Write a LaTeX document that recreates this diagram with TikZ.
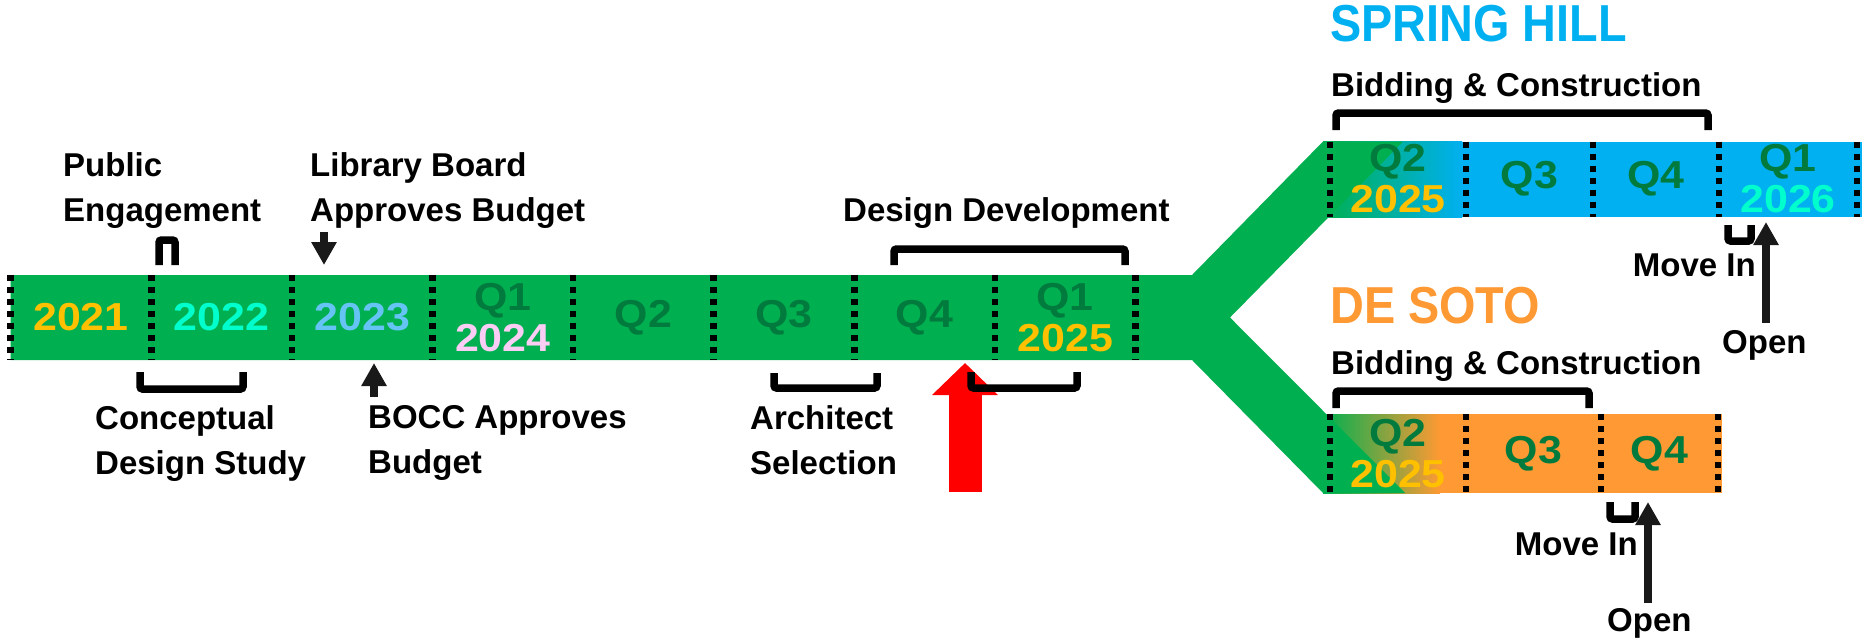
\documentclass[tikz,border=0pt]{standalone}
\usepackage{fontspec}
\setmainfont{Liberation Sans}
\newfontfamily\cellfont{Liberation Sans}[FakeStretch=1.1]
\newfontfamily\sitefont{Liberation Sans}[FakeStretch=0.9]
\usetikzlibrary{arrows.meta}

\definecolor{barGreen}{HTML}{00B050}
\definecolor{qGreen}{HTML}{007A3D}
\definecolor{barBlue}{HTML}{00B0F0}
\definecolor{barOrange}{HTML}{FF9933}
\definecolor{yrGold}{HTML}{FFC000}
\definecolor{yrAqua}{HTML}{00FFCC}
\definecolor{yrSky}{HTML}{66C4F5}
\definecolor{yrPink}{HTML}{FACDF5}
\definecolor{nowRed}{HTML}{FF0000}

\begin{document}
\begin{tikzpicture}[x=1pt,y=-1pt,
  lbl/.style={anchor=north west,inner sep=0,align=left,
    font=\bfseries\fontsize{33}{45}\selectfont},
  cell/.style={inner sep=0,align=center,text=qGreen,
    font=\cellfont\bfseries\fontsize{39}{41}\selectfont},
  sitename/.style={anchor=north west,inner sep=0,
    font=\sitefont\bfseries\fontsize{52}{56}\selectfont},
  qsep/.style={line width=6.5pt,dash pattern=on 6pt off 6pt},
  brk/.style={line width=7.5pt,rounded corners=2.5pt},
  arr/.style={black!90,line width=8.5pt,-{Triangle[width=24pt,length=23pt]}}]
\useasboundingbox (0,0) rectangle (1862,637);

% branch bars
\fill[barBlue] (1323,141.5) rectangle (1862,217);
\shade[left color=barGreen,right color=barBlue] (1323,141.5) rectangle (1462,217);
\fill[barOrange] (1323,414) rectangle (1722,493);
\shade[left color=barGreen,right color=barOrange] (1323,414) rectangle (1440,493);
% main track and fork
\fill[barGreen] (10.7,275) -- (1192,275) -- (1323,141.5) -- (1403,141.5)
  -- (1230,317.5) -- (1405,493) -- (1323,493) -- (1192,360) -- (10.7,360) -- cycle;

% quarter separators
\foreach \x in {10.7,151.3,291.9,432.5,573.1,713.7,854.3,994.9,1135.5}
  \draw[qsep] (\x,275) -- (\x,360);
\foreach \x in {1330,1466,1593,1719,1857}
  \draw[qsep] (\x,141.5) -- (\x,217);
\foreach \x in {1330,1466,1601,1718}
  \draw[qsep] (\x,414) -- (\x,493);

% main track cells
\node[cell,text=yrGold] (c21) at (81,317.5) {2021};
\node[cell,text=yrAqua] (c22) at (221.6,317.5) {2022};
\node[cell,text=yrSky] (c23) at (362.2,317.5) {2023};
\node[cell] (c24) at (502.8,317.5) {Q1\\\color{yrPink}2024};
\node[cell] (cq2) at (643.4,317.5) {Q2};
\node[cell] (cq3) at (784,317.5) {Q3};
\node[cell] (cq4) at (924.6,317.5) {Q4};
\node[cell] (c25) at (1065.2,317.5) {Q1\\\color{yrGold}2025};

% Spring Hill cells
\node[cell] (shq2) at (1398,179) {Q2\\\color{yrGold}2025};
\node[cell] (shq3) at (1529.5,179) {Q3};
\node[cell] (shq4) at (1656,179) {Q4};
\node[cell] (shq1) at (1788,179) {Q1\\\color{yrAqua}2026};

% De Soto cells
\node[cell] (dsq2) at (1398,453.5) {Q2\\\color{yrGold}2025};
\node[cell] (dsq3) at (1533.5,453.5) {Q3};
\node[cell] (dsq4) at (1659.5,453.5) {Q4};

% where we are now
\coordinate (nowtail) at (965,492);
\coordinate (nowtip) at (965,363);
\draw[nowRed,line width=33pt,-{Triangle[width=64pt,length=32pt]}] (nowtail) -- (nowtip);

% brackets
\draw[brk] (159,265) |- (167,240) -| (175,265);
\draw[brk] (140,372) |- (190,389) -| (243,372);
\draw[brk] (774,373) |- (825,388) -| (877,373);
\draw[brk] (971,372) |- (1024,388) -| (1077,372);
\draw[brk] (894,265) |- (1010,249) -| (1125,265);
\draw[brk] (1336,130) |- (1520,113) -| (1708,130);
\draw[brk] (1336,408) |- (1460,391) -| (1589,408);
\draw[brk] (1728,225) |- (1740,241) -| (1751,225);
\draw[brk] (1610,502) |- (1622,519) -| (1635,502);

% milestone arrows
\coordinate (libtail) at (324,232);
\coordinate (libtip) at (324,265);
\coordinate (bocctail) at (374,397);
\coordinate (bocctip) at (374,363);
\coordinate (shtail) at (1766,323);
\coordinate (shtip) at (1766,222);
\coordinate (dstail) at (1648,603);
\coordinate (dstip) at (1648,502);
\draw[arr] (libtail) -- (libtip);
\draw[arr] (bocctail) -- (bocctip);
\draw[arr] (shtail) -- (shtip);
\draw[arr] (dstail) -- (dstip);

% labels
\node[lbl] (pub) at (63,152) {Public\\Engagement};
\node[lbl] (lib) at (310,152) {Library Board\\Approves Budget};
\node[lbl] (ccpt) at (95,405) {Conceptual\\Design Study};
\node[lbl] (bocc) at (368,405) {BOCC Approves\\Budget};
\node[lbl] (arch) at (750,405) {Architect\\Selection};
\node[lbl] (dd) at (843,197) {Design Development};

\node[sitename,text=barBlue] (sh) at (1330,5) {SPRING HILL};
\node[lbl] (shbid) at (1331,72) {Bidding \& Construction};
\node[lbl,anchor=north east] (shmove) at (1756,254) {Move In};
\node[lbl] (shopen) at (1722,330) {Open};

\node[sitename,text=barOrange] (ds) at (1330,287) {DE SOTO};
\node[lbl] (dsbid) at (1331,350) {Bidding \& Construction};
\node[lbl,anchor=north east] (dsmove) at (1638,533) {Move In};
\node[lbl] (dsopen) at (1607,608) {Open};
\end{tikzpicture}
\end{document}
